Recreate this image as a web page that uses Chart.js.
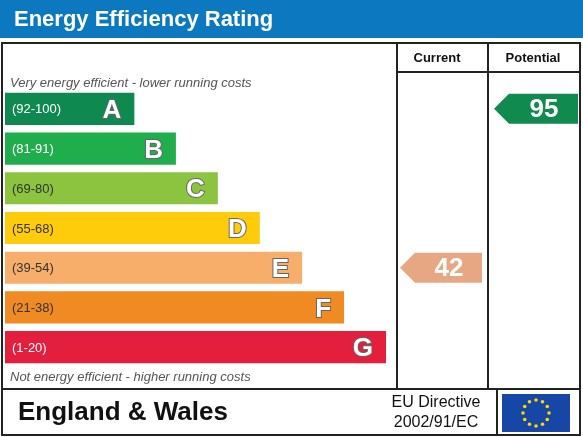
<!DOCTYPE html>
<html><head><meta charset="utf-8">
<script src="https://cdn.jsdelivr.net/npm/chart.js@4"></script>
<style>html,body{margin:0;padding:0;background:#fff}canvas{display:block}</style>
</head><body>
<canvas id="c" width="583" height="437"></canvas>
<script>
const bandLetters = ['A','B','C','D','E','F','G'];
const bandRanges = ['(92-100)','(81-91)','(69-80)','(55-68)','(39-54)','(21-38)','(1-20)'];
const bandMins = [92,81,69,55,39,21,1];
const bandLengths = [33,43.6,54.3,65,75.8,86.5,97.2];
const bandColors = ['#0e8a50','#20ad4b','#8cc43f','#fecc0a','#f7ae6b','#f08a22','#e41e3d'];
const currentRating = 42;
const potentialRating = 95;
const currentColor = '#e8a783';
const potentialColor = '#108a4e';

function bandOf(v){for(let i=0;i<bandMins.length;i++){if(v>=bandMins[i])return i;}return 6;}

const deco = {
  id:'deco',
  beforeDraw(ch){
    const c=ch.ctx; c.save();
    c.fillStyle='#fff'; c.fillRect(0,0,583,437);
    c.fillStyle='#0b78c0'; c.fillRect(0,0,583,38);
    c.fillStyle='#fff'; c.font='bold 22px "Liberation Sans",Arial'; c.textBaseline='middle';
    c.fillText('Energy Efficiency Rating',14,20);
    c.strokeStyle='#222'; c.lineWidth=2;
    c.strokeRect(2,43,578,392);
    c.beginPath();
    c.moveTo(397,43);c.lineTo(397,389);
    c.moveTo(488,43);c.lineTo(488,389);
    c.moveTo(397,72);c.lineTo(580,72);
    c.moveTo(2,389);c.lineTo(580,389);
    c.moveTo(497,389);c.lineTo(497,435);
    c.stroke();
    c.fillStyle='#111'; c.font='bold 13px "Liberation Sans",Arial'; c.textAlign='center';
    c.fillText('Current',437,58); c.fillText('Potential',533,58);
    c.textAlign='left'; c.fillStyle='#555'; c.font='italic 13px "Liberation Sans",Arial';
    c.fillText('Very energy efficient - lower running costs',10,83);
    c.fillText('Not energy efficient - higher running costs',10,377);
    c.fillStyle='#111'; c.font='bold 26px "Liberation Sans",Arial';
    c.fillText('England & Wales',18,413);
    c.font='16px "Liberation Sans",Arial'; c.textAlign='center';
    c.fillText('EU Directive',436,403); c.fillText('2002/91/EC',436,423);
    c.fillStyle='#1747a6'; c.fillRect(502,394,68,38);
    c.fillStyle='#ffd800';
    for(let k=0;k<12;k++){const a=k*Math.PI/6;c.beginPath();c.arc(536+13*Math.cos(a),413+13*Math.sin(a),1.8,0,7);c.fill();}
    c.restore();
  },
  afterDatasetsDraw(ch){
    const c=ch.ctx; const meta=ch.getDatasetMeta(0); const ys=ch.scales.y;
    c.save(); c.textBaseline='middle';
    meta.data.forEach((b,i)=>{
      c.font='13px "Liberation Sans",Arial'; c.textAlign='left';
      c.fillStyle=(i<2||i===6)?'#fff':'#333';
      c.fillText(bandRanges[i],12,b.y+1);
      c.font='bold 26px "Liberation Sans",Arial'; c.textAlign='right';
      c.lineWidth=2; c.strokeStyle='#666';
      c.strokeText(bandLetters[i],b.x-13,b.y+2);
      c.fillStyle='#fff'; c.fillText(bandLetters[i],b.x-13,b.y+2);
    });
    const arrow=(v,x0,x1,col)=>{
      const y=ys.getPixelForValue(bandOf(v)); const h=30;
      c.fillStyle=col; c.beginPath();
      c.moveTo(x0,y);c.lineTo(x0+h/2,y-h/2);c.lineTo(x1,y-h/2);c.lineTo(x1,y+h/2);c.lineTo(x0+h/2,y+h/2);c.closePath();c.fill();
      c.fillStyle='#fff'; c.font='bold 26px "Liberation Sans",Arial'; c.textAlign='center';
      c.fillText(String(v),(x0+x1)/2+8,y+1);
    };
    arrow(currentRating,400,482,currentColor);
    arrow(potentialRating,494,578,potentialColor);
    c.restore();
  }
};

new Chart(document.getElementById('c'),{
  type:'bar',
  data:{labels:bandLetters,datasets:[{data:bandLengths,backgroundColor:bandColors,categoryPercentage:1,barPercentage:0.81}]},
  options:{
    indexAxis:'y',responsive:false,animation:false,
    layout:{padding:{left:5,right:186,top:89,bottom:70}},
    plugins:{legend:{display:false},tooltip:{enabled:false}},
    scales:{x:{display:false,min:0,max:100},y:{display:false}}
  },
  plugins:[deco]
});
</script>
</body></html>
